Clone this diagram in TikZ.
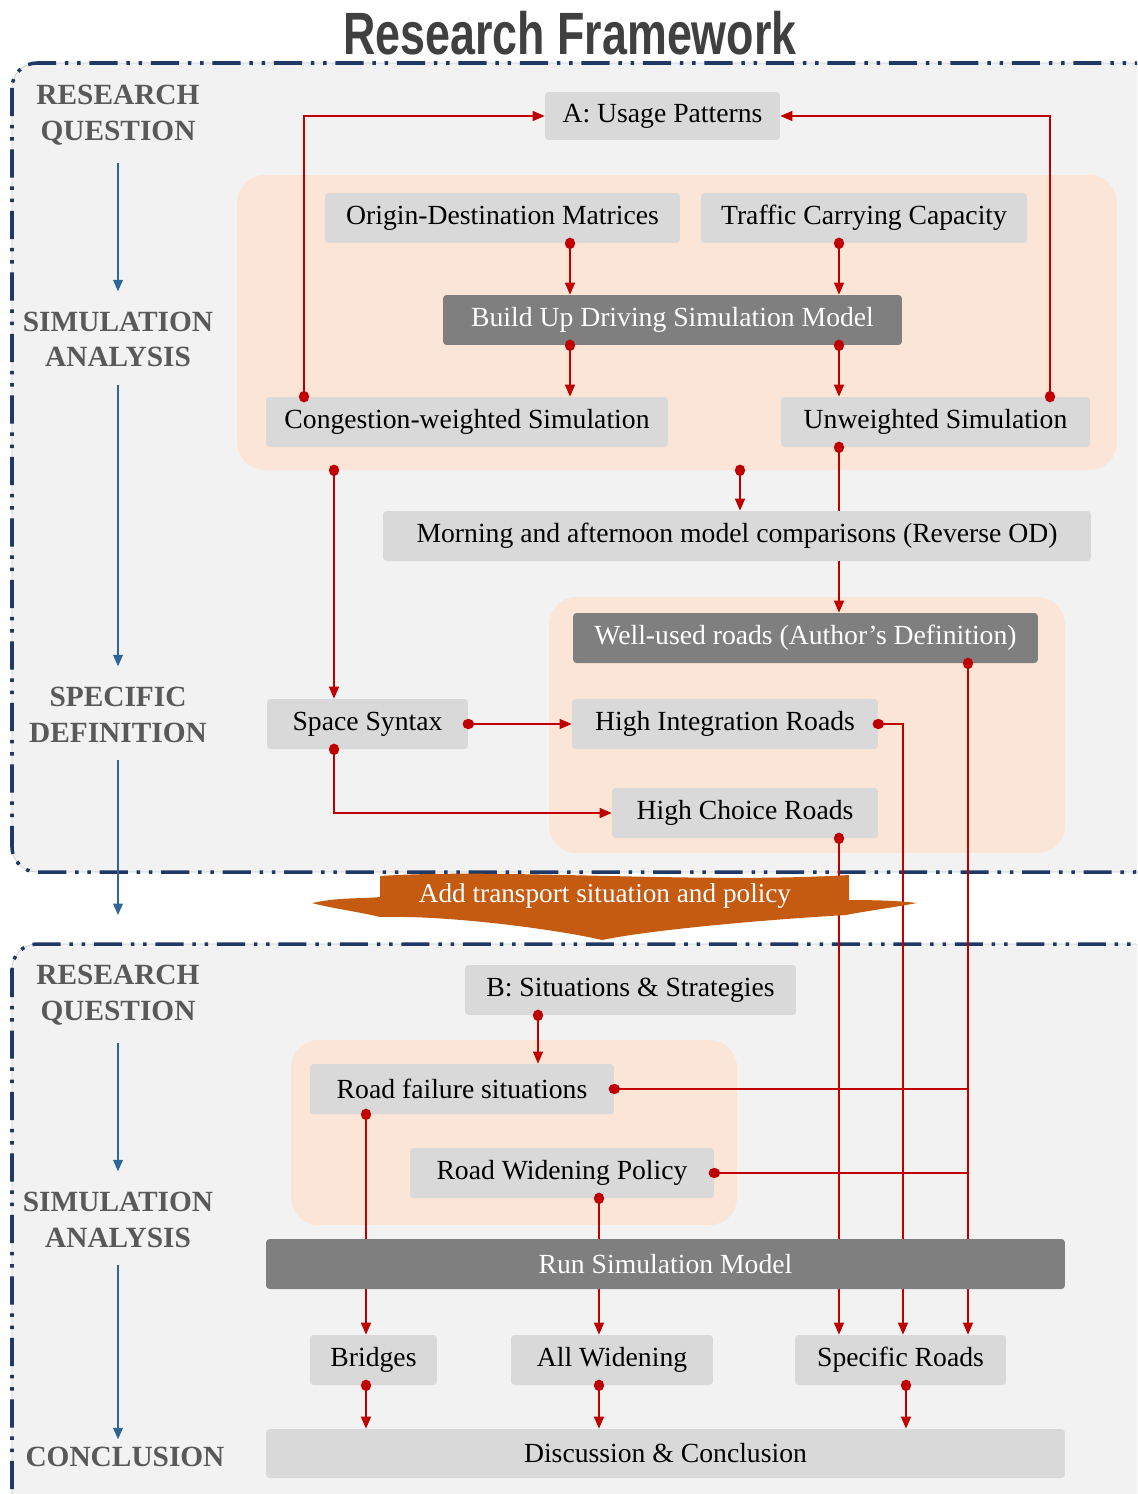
\documentclass[tikz,border=0pt]{standalone}
\usepackage{fontspec}
\setmainfont{Liberation Serif}
\newfontfamily\titlefont{Liberation Sans}
\usetikzlibrary{positioning}
\usetikzlibrary{arrows.meta}
\definecolor{bggray}{HTML}{F2F2F2}
\definecolor{boxgray}{HTML}{D9D9D9}
\definecolor{boxdark}{HTML}{7F7F7F}
\definecolor{regorange}{HTML}{FBE5D6}
\definecolor{linered}{HTML}{C00000}
\definecolor{navy}{HTML}{203864}
\definecolor{stageblue}{HTML}{2F6693}
\definecolor{labelgray}{HTML}{595959}
\definecolor{titlegray}{HTML}{404040}
\definecolor{bannerorange}{HTML}{C55A11}
\tikzset{
    boxg/.style = {rectangle, fill=boxgray, rounded corners=2pt, minimum height=1.0cm, inner sep=0pt, text=black, font=\fontsize{15.75}{18}\selectfont},
    boxd/.style = {boxg, fill=boxdark, text=white},
    regiono/.style = {rectangle, fill=regorange, rounded corners=0.55cm, inner sep=0pt},
    framef/.style = {fill=bggray, draw=black!20, thin, rounded corners=0.5cm},
    framed/.style = {draw=navy, line width=2pt, rounded corners=0.5cm, dash pattern=on 16pt off 5pt on 2pt off 5pt on 2pt off 5pt},
    stage/.style = {align=center, text=labelgray, inner sep=2pt, font=\fontsize{16.7}{20.4}\selectfont\bfseries},
    titlen/.style = {text=titlegray, font=\titlefont\bfseries\fontsize{34}{40}\selectfont},
    bannern/.style = {text=white, font=\fontsize{15.5}{18}\selectfont},
    edger/.style = {{Circle[length=6.5pt,width=5.8pt]}-{Triangle[length=6.8pt,width=5.6pt]}, line width=0.9pt, draw=linered, shorten <=-3.25pt}, % dot to arrow
    edgel/.style = {{Circle[length=6.5pt,width=5.8pt]}-, line width=0.9pt, draw=linered, shorten <=-3.25pt}, % dot only
    edgea/.style = {-{Triangle[length=6.8pt,width=5.6pt]}, line width=0.9pt, draw=linered}, % arrow only
    edgeb/.style = {-{Triangle[length=6.5pt,width=5.5pt]}, line width=0.8pt, draw=stageblue, shorten <=0.27cm, shorten >=0.33cm}
}
\begin{document}
\begin{tikzpicture}[x=0.02cm, y=-0.02cm]
\useasboundingbox (0,0) rectangle (1137,1494);
\clip (0,0) rectangle (1137,1494);
%
\node[titlen] at (570, 33) (title) {\scalebox{0.75}[1]{Research Framework}};
%
\draw[framef] (12, 63) rectangle (1160, 872);
\draw[framed] (12, 63) rectangle (1160, 872);
\draw[framef] (12, 944) rectangle (1160, 1540);
\draw[framed] (12, 944) rectangle (1160, 1540);
%
\node[regiono, minimum width=17.6cm, minimum height=5.9cm] at (677, 322.5) (rega) {};
\node[regiono, minimum width=10.32cm, minimum height=5.12cm] at (807, 725) (regb) {};
\node[regiono, minimum width=8.92cm, minimum height=3.7cm] at (514, 1132.5) (regc) {};
%
\node[stage] at (118, 115.5) (rq1) {RESEARCH\\QUESTION};
\node[stage] at (118, 339.5) (sa1) {SIMULATION\\ANALYSIS};
\node[stage] at (118, 714.5) (sd1) {SPECIFIC\\DEFINITION};
\coordinate (gapend) at (118, 915);
\node[stage] at (118, 995.5) (rq2) {RESEARCH\\QUESTION};
\node[stage] at (118, 1219.5) (sa2) {SIMULATION\\ANALYSIS};
\node[stage] at (125, 1457) (concl) {CONCLUSION};
%
\draw[edgeb] (rq1.south) -- (sa1.north);
\draw[edgeb] (sa1.south) -- (sd1.north);
\draw[edgeb, shorten >=0pt] (sd1.south) -- (gapend);
\draw[edgeb] (rq2.south) -- (sa2.north);
\draw[edgeb, shorten >=0.08cm] (sa2.south) -- (sa2.south |- concl.north);
%
\node[boxg, minimum width=4.7cm, minimum height=0.96cm] at (662.5, 116) (usage) {A: Usage Patterns};
\node[boxg, minimum width=7.1cm] at (502.5, 218) (od) {Origin-Destination Matrices};
\node[boxg, minimum width=6.52cm] at (864, 218) (tcc) {Traffic Carrying Capacity};
\node[boxd, minimum width=9.18cm] at (672.5, 320) (build) {Build Up Driving Simulation Model};
\node[boxg, minimum width=8.04cm] at (467, 422) (cong) {Congestion-weighted Simulation};
\node[boxg, minimum width=6.18cm] at (935.5, 422) (unw) {Unweighted Simulation};
\node[boxg, minimum width=14.16cm] at (737, 536) (morn) {Morning and afternoon model comparisons (Reverse OD)};
\node[boxd, minimum width=9.3cm] at (805.5, 638) (well) {Well-used roads (Author’s Definition)};
\node[boxg, minimum width=4.02cm] at (367.5, 724) (space) {Space Syntax};
\node[boxg, minimum width=6.12cm] at (725, 724) (hir) {High Integration Roads};
\node[boxg, minimum width=5.32cm] at (745, 813) (hcr) {High Choice Roads};
%
\node[boxg, minimum width=6.62cm] at (630.5, 990) (bss) {B: Situations \& Strategies};
\node[boxg, minimum width=6.08cm] at (462, 1089) (rfs) {Road failure situations};
\node[boxg, minimum width=6.08cm] at (562, 1173) (rwp) {Road Widening Policy};
\node[boxg, minimum width=2.54cm] at (373.5, 1360) (bridges) {Bridges};
\node[boxg, minimum width=4.04cm] at (612, 1360) (allw) {All Widening};
\node[boxg, minimum width=4.22cm] at (900.5, 1360) (spec) {Specific Roads};
\node[boxg, minimum width=15.98cm, minimum height=0.98cm] at (665.5, 1453.5) (disc) {Discussion \& Conclusion};
%
\coordinate (x304) at (304, 0);
\coordinate (x334) at (334, 0);
\coordinate (x366) at (366, 0);
\coordinate (x538) at (538, 0);
\coordinate (x570) at (570, 0);
\coordinate (x599) at (599, 0);
\coordinate (x740) at (740, 0);
\coordinate (x839) at (839, 0);
\coordinate (x903) at (903, 0);
\coordinate (x906) at (906, 0);
\coordinate (x968) at (968, 0);
\coordinate (x1050) at (1050, 0);
%
\draw[edger] (cong.north -| x304) |- (usage.west);
\draw[edger] (unw.north -| x1050) |- (usage.east);
\draw[edger] (od.south -| x570) -- (build.north -| x570);
\draw[edger] (tcc.south -| x839) -- (build.north -| x839);
\draw[edger] (build.south -| x570) -- (cong.north -| x570);
\draw[edger] (build.south -| x839) -- (unw.north -| x839);
\draw[edger] (rega.south -| x334) -- (space.north -| x334);
\draw[edger] (rega.south -| x740) -- (morn.north -| x740);
\draw[edgel] (unw.south -| x839) -- (morn.north -| x839);
\draw[edgea] (morn.south -| x839) -- (well.north -| x839);
\draw[edger] (space.east) -- (hir.west);
\draw[edger] (space.south -| x334) |- (hcr.west);
\draw[edger] (hir.east) -| (spec.north -| x903);
\draw[edger] (hcr.south -| x839) -- (spec.north -| x839);
\draw[edger] (well.south -| x968) -- (spec.north -| x968);
\draw[edgel] (rfs.east) -- (rfs.east -| x968);
\draw[edgel] (rwp.east) -- (rwp.east -| x968);
\draw[edger] (bss.south -| x538) -- (rfs.north -| x538);
\draw[edger] (rfs.south -| x366) -- (bridges.north -| x366);
\draw[edger] (rwp.south -| x599) -- (allw.north -| x599);
\draw[edger] (bridges.south -| x366) -- (disc.north -| x366);
\draw[edger] (allw.south -| x599) -- (disc.north -| x599);
\draw[edger] (spec.south -| x906) -- (disc.north -| x906);
%
\node[boxd, minimum width=15.98cm] at (665.5, 1264) (run) {Run Simulation Model};
%
\fill[bannerorange] (312, 903) .. controls (340, 897) and (360, 899) .. (380, 897) -- (380, 876)
    .. controls (500, 868) and (700, 884) .. (849, 875) -- (849, 900)
    .. controls (880, 900) and (900, 901) .. (917, 903)
    .. controls (890, 908) and (860, 912) .. (846, 915)
    .. controls (760, 920) and (650, 930) .. (602, 940)
    .. controls (560, 930) and (450, 915) .. (380, 917)
    .. controls (360, 912) and (330, 908) .. (312, 903) -- cycle;
\node[bannern] at (605, 896) (banner) {Add transport situation and policy};

\end{tikzpicture}
\end{document}
